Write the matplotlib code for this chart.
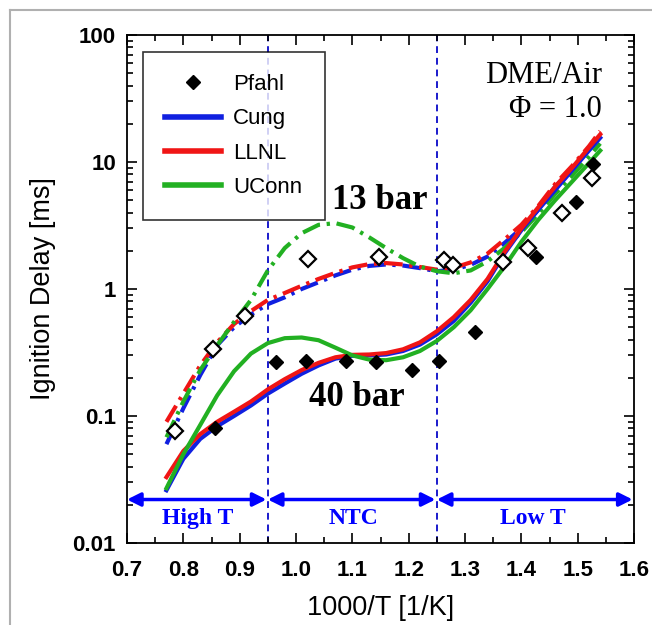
import numpy as np
import matplotlib
matplotlib.use('Agg')
import matplotlib.pyplot as plt
from matplotlib.lines import Line2D
from matplotlib.ticker import MultipleLocator, LogLocator, NullFormatter, FixedFormatter, FixedLocator

plt.rcParams['font.family'] = ['Liberation Sans', 'DejaVu Sans']

# model curves sampled at the same 1000/T grid
x_grid = [0.77, 0.80, 0.83, 0.86, 0.89, 0.92, 0.95, 0.98, 1.01, 1.04, 1.07, 1.10, 1.13,
          1.16, 1.19, 1.22, 1.25, 1.28, 1.31, 1.34, 1.37, 1.40, 1.43, 1.46, 1.49, 1.52, 1.54]

# 13 bar (dash-dot)
cung_13 = [0.060, 0.115, 0.21, 0.36, 0.50, 0.63, 0.76, 0.86, 1.00, 1.13, 1.28, 1.42, 1.52,
           1.56, 1.53, 1.46, 1.38, 1.42, 1.55, 1.80, 2.30, 3.00, 4.20, 6.40, 8.80, 12.5, 16.0]
llnl_13 = [0.090, 0.15, 0.25, 0.38, 0.53, 0.67, 0.82, 0.93, 1.06, 1.20, 1.34, 1.48, 1.57,
           1.60, 1.56, 1.49, 1.42, 1.47, 1.62, 1.90, 2.45, 3.20, 4.50, 6.70, 9.30, 13.3, 17.5]
uconn_13 = [0.068, 0.13, 0.23, 0.36, 0.55, 0.82, 1.40, 2.10, 2.75, 3.20, 3.30, 3.05, 2.55,
            2.10, 1.75, 1.50, 1.38, 1.33, 1.40, 1.65, 2.10, 2.80, 3.90, 5.60, 7.80, 11.0, 14.0]

# 40 bar (solid)
cung_40 = [0.026, 0.046, 0.066, 0.083, 0.100, 0.121, 0.150, 0.180, 0.215, 0.250, 0.283, 0.298, 0.300,
           0.305, 0.325, 0.365, 0.440, 0.560, 0.780, 1.15, 1.90, 2.90, 4.20, 6.00, 8.60, 12.3, 15.5]
llnl_40 = [0.033, 0.053, 0.072, 0.090, 0.108, 0.130, 0.162, 0.195, 0.230, 0.262, 0.290, 0.303, 0.305,
           0.313, 0.335, 0.380, 0.465, 0.600, 0.820, 1.20, 1.95, 3.00, 4.40, 6.40, 9.00, 13.0, 16.5]
uconn_40 = [0.027, 0.050, 0.085, 0.145, 0.225, 0.310, 0.375, 0.410, 0.415, 0.395, 0.345, 0.300, 0.278,
            0.275, 0.290, 0.325, 0.390, 0.500, 0.680, 1.00, 1.50, 2.35, 3.50, 5.00, 7.00, 9.80, 12.3]

# Pfahl experiments
pf40_x = [0.857, 0.964, 1.018, 1.088, 1.142, 1.206, 1.253, 1.317, 1.426, 1.497, 1.528]
pf40_y = [0.081, 0.264, 0.272, 0.272, 0.264, 0.231, 0.272, 0.455, 1.78, 4.82, 9.64]
pf13_x = [0.785, 0.853, 0.910, 1.021, 1.148, 1.263, 1.279, 1.367, 1.411, 1.472, 1.526]
pf13_y = [0.076, 0.34, 0.61, 1.71, 1.80, 1.69, 1.55, 1.64, 2.09, 3.94, 7.50]

regions = [0.7, 0.95, 1.25, 1.6]
region_names = ['High T', 'NTC', 'Low T']
region_text_x = [0.825, 1.102, 1.421]

c_blue = '#1020e0'
c_red = '#f01515'
c_green = '#22b022'
dashdot = (0, (4.5, 1.6, 0.8, 1.6))

fig = plt.figure(figsize=(6.52, 6.25), dpi=100, facecolor='w')
ax = fig.add_axes([0.1948, 0.1312, 0.7776, 0.8128])

ax.plot(x_grid, cung_13, color=c_blue, lw=3, ls=dashdot)
ax.plot(x_grid, llnl_13, color=c_red, lw=3, ls=dashdot)
ax.plot(x_grid, uconn_13, color=c_green, lw=3, ls=dashdot)
ax.plot(x_grid, cung_40, color=c_blue, lw=3)
ax.plot(x_grid, llnl_40, color=c_red, lw=3)
ax.plot(x_grid, uconn_40, color=c_green, lw=3)

ax.plot(pf40_x, pf40_y, ls='none', marker='D', ms=7, mfc='k', mec='k', zorder=5)
ax.plot(pf13_x, pf13_y, ls='none', marker='D', ms=8, mfc='w', mec='k', mew=1.6, zorder=5)

for xv in regions[1:3]:
    ax.axvline(xv, color='#1a1acc', lw=1.4, ls=(0, (3.5, 2.5)), zorder=1)

for i in range(3):
    ax.annotate('', xy=(regions[i + 1], 0.022), xytext=(regions[i], 0.022),
                arrowprops=dict(arrowstyle='<|-|>', color='#0000ff', lw=2.5,
                                mutation_scale=20, shrinkA=0, shrinkB=1))
    ax.text(region_text_x[i], 0.0157, region_names[i], color='#0000ff', ha='center', va='center',
            family='Liberation Serif', weight='bold', fontsize=17)

ax.text(1.149, 5.0, '13 bar', ha='center', va='center', family='Liberation Serif',
        weight='bold', fontsize=25)
ax.text(1.108, 0.14, '40 bar', ha='center', va='center', family='Liberation Serif',
        weight='bold', fontsize=25)
ax.text(1.543, 48.4, 'DME/Air', ha='right', va='center', family='Liberation Serif', fontsize=22)
ax.text(1.543, 25.8, '\u03A6 = 1.0', ha='right', va='center', family='Liberation Serif', fontsize=22)

ax.set_yscale('log')
ax.set_xlim(0.7, 1.6)
ax.set_ylim(0.01, 100)
ax.xaxis.set_minor_locator(MultipleLocator(0.05))
ax.set_xticks(np.arange(0.7, 1.61, 0.1))
ax.set_xticklabels(['%.1f' % v for v in np.arange(0.7, 1.61, 0.1)])
ax.yaxis.set_major_locator(FixedLocator([0.01, 0.1, 1, 10, 100]))
ax.yaxis.set_major_formatter(FixedFormatter(['0.01', '0.1', '1', '10', '100']))
ax.yaxis.set_minor_locator(LogLocator(base=10, subs=np.arange(2, 10)))
ax.yaxis.set_minor_formatter(NullFormatter())

ax.tick_params(which='both', direction='in', top=True, right=True, width=1.2)
ax.tick_params(which='major', length=7)
ax.tick_params(which='minor', length=4)
ax.tick_params(axis='x', which='major', pad=12)
ax.tick_params(axis='y', which='major', pad=8)
for lab in ax.get_xticklabels() + ax.get_yticklabels():
    lab.set_fontweight('bold')
    lab.set_fontsize(16)
for sp in ax.spines.values():
    sp.set_linewidth(1.3)

ax.set_xlabel('1000/T [1/K]', fontsize=19.5, labelpad=10)
ax.set_ylabel('Ignition Delay [ms]', fontsize=19.5, labelpad=12)

handles = [Line2D([], [], ls='none', marker='D', ms=7, mfc='k', mec='k'),
           Line2D([], [], color=c_blue, lw=4),
           Line2D([], [], color=c_red, lw=4),
           Line2D([], [], color=c_green, lw=4)]
leg = ax.legend(handles, ['Pfahl', 'Cung', 'LLNL', 'UConn'], loc='upper left',
                bbox_to_anchor=(0.032, 0.967), borderaxespad=0, fontsize=16,
                frameon=True, fancybox=False, edgecolor='k', borderpad=1.0,
                labelspacing=0.6, handlelength=2.5, handletextpad=0.55)
leg.get_frame().set_linewidth(1.2)

# grey frame at the picture's left and top edges
fig.add_artist(Line2D([0.0153, 0.0153], [0.0, 0.984], color='#b0b0b0', lw=1.5,
                      transform=fig.transFigure))
fig.add_artist(Line2D([0.0153, 1.0], [0.984, 0.984], color='#b0b0b0', lw=1.5,
                      transform=fig.transFigure))

plt.savefig('out.png', dpi=100)
